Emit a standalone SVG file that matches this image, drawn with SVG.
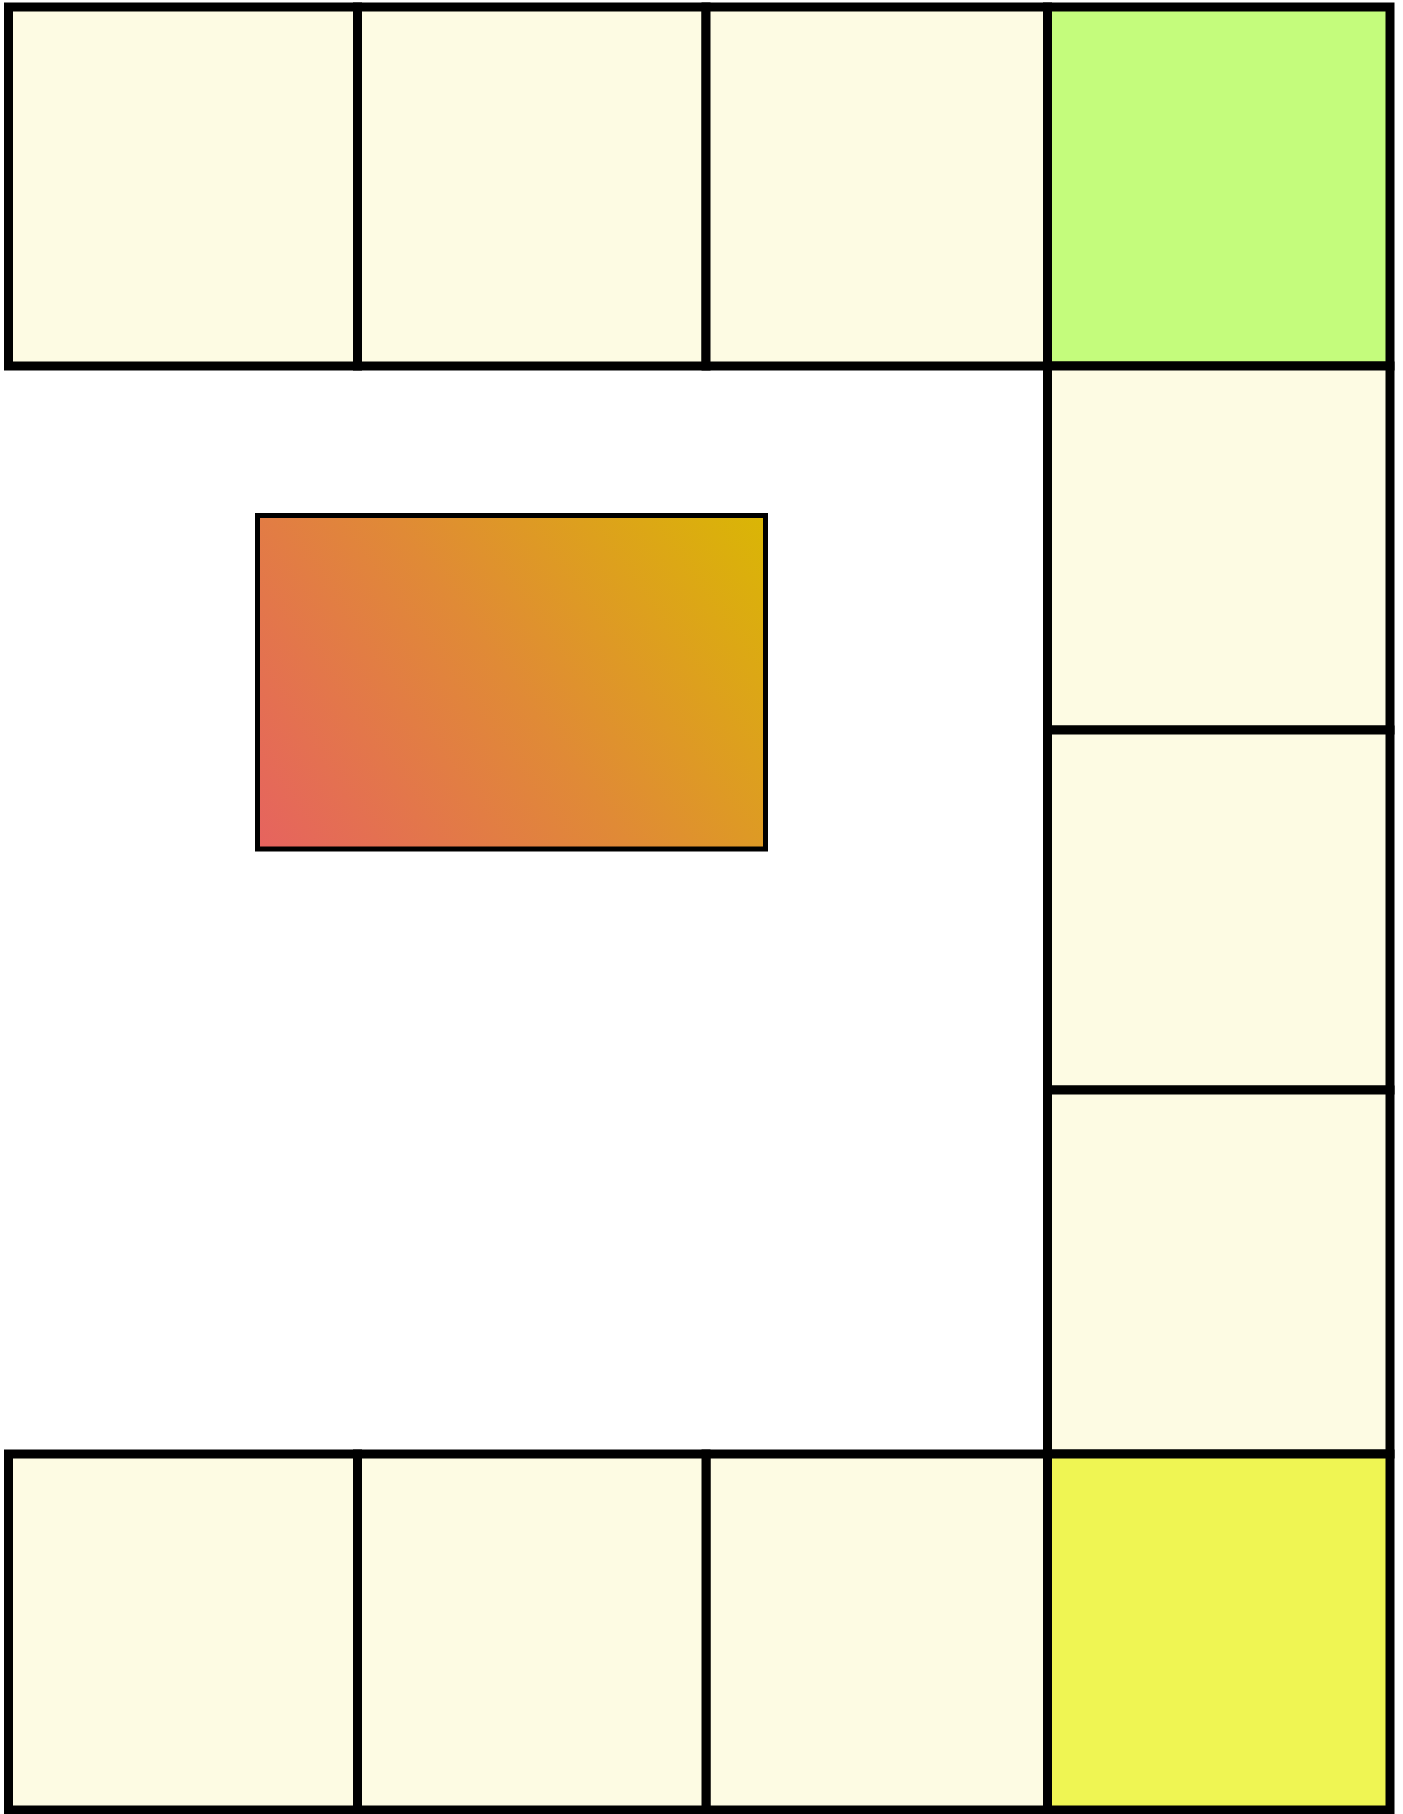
<svg xmlns="http://www.w3.org/2000/svg" width="1403" height="1814" viewBox="0 0 1403 1814">
<style>
.cell{fill:#FDFBE3;stroke:#000;stroke-width:9}
.start{fill:#C4FC7C;stroke:#000;stroke-width:9}
.end{fill:#EFF553;stroke:#000;stroke-width:9}
.center{fill:url(#grad);stroke:#000;stroke-width:5}
</style>
<defs>
<linearGradient id="grad" x1="0" y1="1" x2="1.2" y2="0.43">
<stop offset="0" stop-color="#E6635F"/>
<stop offset="0.5" stop-color="#E08A36"/>
<stop offset="1" stop-color="#DAB605"/>
</linearGradient>
</defs>
<rect x="0" y="0" width="1403" height="1814" fill="#fff"/>
<g id="center-card"><rect class="center" x="257.5" y="515.5" width="508" height="333.5"/></g>
<g id="top-1"><rect class="cell" x="8.5" y="7" width="349" height="359"/></g>
<g id="top-2"><rect class="cell" x="357.5" y="7" width="348.5" height="359"/></g>
<g id="top-3"><rect class="cell" x="706" y="7" width="341.5" height="359"/></g>
<g id="top-4"><rect class="start" x="1047.5" y="7" width="342.5" height="359"/></g>
<g id="right-1"><rect class="cell" x="1047.5" y="366" width="342.5" height="364"/></g>
<g id="right-2"><rect class="cell" x="1047.5" y="730" width="342.5" height="360"/></g>
<g id="right-3"><rect class="cell" x="1047.5" y="1090" width="342.5" height="364"/></g>
<g id="bottom-4"><rect class="end" x="1047.5" y="1454" width="342.5" height="356"/></g>
<g id="bottom-3"><rect class="cell" x="706" y="1454" width="341.5" height="356"/></g>
<g id="bottom-2"><rect class="cell" x="357.5" y="1454" width="348.5" height="356"/></g>
<g id="bottom-1"><rect class="cell" x="8.5" y="1454" width="349" height="356"/></g>
<g id="connectors"></g>
</svg>
